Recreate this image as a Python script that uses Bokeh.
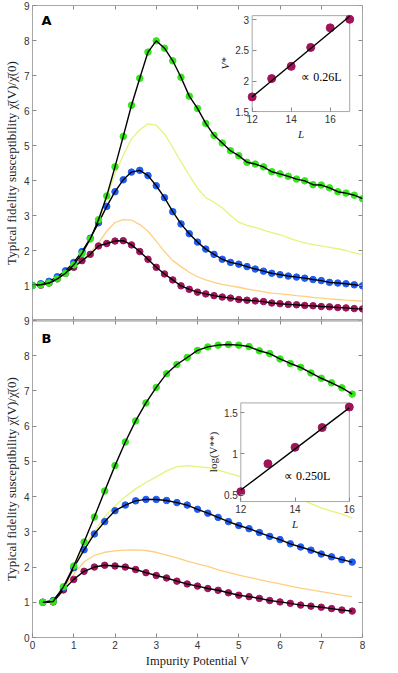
from bokeh.plotting import figure
from bokeh.layouts import column
from bokeh.models import Range1d, LinearAxis, FixedTicker, Label
from bokeh.core.properties import value
from bokeh.embed import file_html
from bokeh.resources import INLINE

# ---------------- data ----------------
V_A = [0.0, 0.2, 0.4, 0.6, 0.8, 1.0, 1.2, 1.4, 1.6, 1.8, 2.0, 2.2, 2.4, 2.6, 2.8, 3.0,
       3.2, 3.4, 3.6, 3.8, 4.0, 4.2, 4.4, 4.6, 4.8, 5.0, 5.2, 5.4, 5.6, 5.8, 6.0, 6.2,
       6.4, 6.6, 6.8, 7.0, 7.2, 7.4, 7.6, 7.8, 8.0]
green_A = [1.00, 1.02, 1.07, 1.19, 1.35, 1.59, 1.91, 2.33, 2.88, 3.56, 4.39, 5.26, 6.15, 6.92,
           7.67, 7.99, 7.78, 7.42, 6.95, 6.41, 6.06, 5.63, 5.29, 5.07, 4.85, 4.71, 4.52, 4.47,
           4.39, 4.25, 4.19, 4.12, 4.04, 3.99, 3.88, 3.87, 3.79, 3.68, 3.64, 3.58, 3.48]
blue_A = [1.00, 1.05, 1.12, 1.25, 1.42, 1.66, 1.97, 2.35, 2.79, 3.26, 3.68, 4.02, 4.24, 4.29,
          4.14, 3.85, 3.51, 3.11, 2.76, 2.48, 2.24, 2.04, 1.89, 1.75, 1.66, 1.61, 1.54, 1.47,
          1.41, 1.35, 1.31, 1.27, 1.24, 1.21, 1.17, 1.14, 1.09, 1.07, 1.05, 1.02, 0.99]
purple_A = [1.00, 1.01, 1.07, 1.19, 1.35, 1.52, 1.71, 1.89, 2.13, 2.20, 2.27, 2.28, 2.16, 1.97,
            1.75, 1.52, 1.33, 1.16, 0.99, 0.89, 0.81, 0.76, 0.71, 0.67, 0.64, 0.60, 0.58, 0.56,
            0.54, 0.50, 0.48, 0.46, 0.45, 0.43, 0.42, 0.40, 0.39, 0.37, 0.36, 0.34, 0.33]
yellow_A = [1.00, 1.03, 1.09, 1.21, 1.38, 1.62, 1.93, 2.33, 2.84, 3.50, 4.20, 4.72, 5.19, 5.45,
            5.62, 5.58, 5.33, 4.95, 4.53, 4.15, 3.78, 3.51, 3.38, 3.22, 3.00, 2.81, 2.72, 2.66,
            2.58, 2.51, 2.45, 2.36, 2.28, 2.22, 2.17, 2.13, 2.09, 2.05, 2.00, 1.93, 1.88]
orange_A = [1.00, 1.02, 1.07, 1.19, 1.35, 1.52, 1.70, 1.94, 2.22, 2.55, 2.80, 2.88, 2.87, 2.74,
            2.55, 2.27, 1.97, 1.71, 1.54, 1.38, 1.25, 1.16, 1.09, 1.03, 0.99, 0.95, 0.90, 0.86,
            0.82, 0.78, 0.76, 0.74, 0.71, 0.69, 0.66, 0.64, 0.62, 0.60, 0.58, 0.565, 0.55]

V_B = [0.25, 0.5, 0.75, 1.0, 1.25, 1.5, 1.75, 2.0, 2.25, 2.5, 2.75, 3.0, 3.25, 3.5, 3.75, 4.0,
       4.25, 4.5, 4.75, 5.0, 5.25, 5.5, 5.75, 6.0, 6.25, 6.5, 6.75, 7.0, 7.25, 7.5, 7.75]
green_B = [1.00, 1.02, 1.44, 2.03, 2.71, 3.42, 4.16, 4.88, 5.55, 6.15, 6.66, 7.10, 7.49, 7.75,
           7.95, 8.15, 8.25, 8.30, 8.32, 8.30, 8.26, 8.14, 8.06, 7.91, 7.78, 7.67, 7.51, 7.36,
           7.23, 7.09, 6.91]
blue_B = [1.00, 1.05, 1.41, 1.98, 2.49, 2.94, 3.29, 3.60, 3.76, 3.88, 3.92, 3.92, 3.89, 3.83,
          3.76, 3.64, 3.53, 3.41, 3.29, 3.18, 3.09, 2.98, 2.87, 2.78, 2.66, 2.57, 2.48, 2.37,
          2.29, 2.21, 2.14]
purple_B = [1.00, 1.01, 1.35, 1.65, 1.88, 2.00, 2.05, 2.03, 2.00, 1.93, 1.84, 1.76, 1.69, 1.60,
            1.52, 1.46, 1.39, 1.34, 1.27, 1.20, 1.16, 1.11, 1.05, 1.01, 0.97, 0.92, 0.89, 0.86,
            0.82, 0.78, 0.75]
yellow_B = [1.00, 1.02, 1.40, 1.97, 2.58, 3.01, 3.43, 3.74, 4.00, 4.22, 4.40, 4.56, 4.73, 4.85,
            4.88, 4.85, 4.82, 4.75, 4.67, 4.58, 4.49, 4.40, 4.30, 4.19, 4.06, 3.92, 3.80, 3.68,
            3.59, 3.50, 3.39]
orange_B = [1.00, 1.02, 1.38, 1.80, 2.15, 2.33, 2.42, 2.46, 2.48, 2.49, 2.47, 2.42, 2.34, 2.26,
            2.17, 2.09, 2.02, 1.92, 1.85, 1.77, 1.71, 1.64, 1.58, 1.52, 1.46, 1.40, 1.35, 1.30,
            1.25, 1.20, 1.16]

# inset A : V* vs L
L_A = [12, 13, 14, 15, 16, 17]
Vstar_A = [1.74, 2.04, 2.24, 2.55, 2.87, 3.01]
fitL_A = [12, 17]
fitV_A = [1.74, 3.06]
# inset B : log(V**) vs L
L_B = [12, 13, 14, 15, 16]
logV_B = [0.54, 0.88, 1.08, 1.32, 1.57]
fitL_B = [12, 16]
fitV_B = [0.56, 1.56]

x_ticks = [0, 1, 2, 3, 4, 5, 6, 7, 8]
y_ticks_A = [1, 2, 3, 4, 5, 6, 7, 8, 9]
y_ticks_B = [0, 1, 2, 3, 4, 5, 6, 7, 8, 9]
insA_yticks = [1.5, 2, 2.5, 3]
insB_yticks = [0.5, 1, 1.5]
ins_xticks = [12, 14, 16]

YLABEL = "Typical fidelity susceptibility \u03c7\u0304(V)/\u03c7\u0304(0)"
XLABEL = "Impurity Potential V"

GREEN = "#35e61c"
BLUE = "#1f5cf0"
PURPLE = "#a0145a"
YELLOW = "#e2f57c"
ORANGE = "#ffcf80"
AXC = "#8a8a8a"
TXT = "#333333"
SANS = "Liberation Sans"
SERIF = "Liberation Serif"


def span(full0, full1, box0, box1, in0, in1):
    k = (in1 - in0) / (box1 - box0)
    return in0 + (full0 - box0) * k, in0 + (full1 - box0) * k


def add_axis(p, side, ticks, labels=True, loc=None, xr="default", yr="default", bounds=None,
             label=None, label_style="normal", label_size="12.5px", line=None, lw=1):
    ax = LinearAxis(ticker=FixedTicker(ticks=ticks), x_range_name=xr, y_range_name=yr)
    if loc is not None:
        ax.fixed_location = loc
    if bounds is not None:
        ax.bounds = bounds
    ax.major_tick_in = 4
    ax.major_tick_out = 0
    ax.minor_tick_in = 0
    ax.minor_tick_out = 0
    ax.axis_line_color = line
    ax.axis_line_width = lw
    ax.major_tick_line_color = AXC
    ax.major_label_text_font = SANS
    ax.major_label_text_font_size = "10px"
    ax.major_label_text_color = TXT
    ax.major_label_standoff = 3
    if not labels:
        ax.major_label_overrides = {t: "" for t in ticks}
    if label:
        ax.axis_label = label
        ax.axis_label_text_font = SERIF
        ax.axis_label_text_font_size = label_size
        ax.axis_label_text_font_style = label_style
        ax.axis_label_text_color = "#222222"
        ax.axis_label_standoff = 2
    p.add_layout(ax, side)
    return ax


def make_panel(frame_h, top_border):
    p = figure(frame_width=330, frame_height=frame_h, x_range=Range1d(0, 8), y_range=Range1d(0, 9),
               x_axis_type=None, y_axis_type=None, toolbar_location=None, output_backend="svg",
               min_border_left=20, min_border_right=8, min_border_top=top_border,
               min_border_bottom=0)
    p.outline_line_color = "#a8a8a8"
    p.outline_line_width = 1
    p.background_fill_color = "white"
    return p


def curves(p, V, yellow, orange, series):
    p.line(V, yellow, line_color=YELLOW, line_width=1.3)
    p.line(V, orange, line_color=ORANGE, line_width=1.3)
    for ys, col in series:
        p.scatter(V, ys, size=6.5, fill_color=col, line_color=col)
        p.line(V, ys, line_color="black", line_width=1.4)


def inset(p, xr, yr, L, vals, fitL, fitV, xlim, ylim, yticks, ylabel, ylabel_style, note, note_xy):
    p.quad(left=[xlim[0]], right=[xlim[1]], bottom=[ylim[0]], top=[ylim[1]],
           x_range_name=xr, y_range_name=yr, fill_color="white", line_color="#a8a8a8",
           line_width=1)
    p.scatter(L, vals, x_range_name=xr, y_range_name=yr, size=8,
              fill_color=PURPLE, line_color=PURPLE)
    p.line(fitL, fitV, x_range_name=xr, y_range_name=yr, line_color="black", line_width=1.4)
    p.text(x=[note_xy[0]], y=[note_xy[1]], text=[note], x_range_name=xr, y_range_name=yr,
           text_font=value(SERIF), text_font_size="12px", text_align="center",
           text_baseline="middle", text_color="black")
    add_axis(p, "left", yticks, loc=xlim[0], xr=xr, yr=yr, bounds=ylim,
             label=ylabel, label_style=ylabel_style, label_size="11px")
    add_axis(p, "below", ins_xticks, loc=ylim[0], xr=xr, yr=yr, bounds=xlim,
             label="L", label_style="italic", label_size="11px")


# ================= panel A =================
pA = make_panel(315, 5)
pA.extra_x_ranges = {"iAx": Range1d(*span(0, 8, 5.325, 7.69, 12, 17))}
pA.extra_y_ranges = {"iAy": Range1d(*span(0, 9, 5.97, 8.71, 1.5, 3.07))}
add_axis(pA, "left", y_ticks_A, label=YLABEL, label_size="13px")
add_axis(pA, "right", y_ticks_B, labels=False, loc=8)
add_axis(pA, "above", x_ticks, labels=False, loc=9)
add_axis(pA, "below", x_ticks, labels=False, loc=0)
curves(pA, V_A, yellow_A, orange_A, ((purple_A, PURPLE), (blue_A, BLUE), (green_A, GREEN)))
pA.add_layout(Label(x=0.34, y=8.57, text="A", text_font="DejaVu Sans", text_font_style="bold",
                    text_font_size="13px", text_align="center", text_baseline="middle",
                    text_color="black"))
inset(pA, "iAx", "iAy", L_A, Vstar_A, fitL_A, fitV_A, (12, 17), (1.5, 3.07), insA_yticks,
      "V*", "italic", "\u221d 0.26L", (15.55, 2.07))

# ================= panel B =================
pB = make_panel(317, 5)
pB.margin = (-5, 0, 0, 0)
pB.border_fill_alpha = 0
pB.extra_x_ranges = {"iBx": Range1d(*span(0, 8, 5.05, 7.68, 12, 16))}
pB.extra_y_ranges = {"iBy": Range1d(*span(0, 9, 3.86, 6.66, 0.42, 1.62))}
add_axis(pB, "below", x_ticks, label=XLABEL)
add_axis(pB, "left", y_ticks_B, label=YLABEL, label_size="13px")
add_axis(pB, "right", y_ticks_B, labels=False, loc=8)
add_axis(pB, "above", x_ticks, labels=False, loc=9, line="#cccccc", lw=3)
curves(pB, V_B, yellow_B, orange_B, ((purple_B, PURPLE), (blue_B, BLUE), (green_B, GREEN)))
pB.add_layout(Label(x=0.34, y=8.48, text="B", text_font="DejaVu Sans", text_font_style="bold",
                    text_font_size="13px", text_align="center", text_baseline="middle",
                    text_color="black"))
inset(pB, "iBx", "iBy", L_B, logV_B, fitL_B, fitV_B, (12, 16), (0.42, 1.62), insB_yticks,
      "log(V**)", "normal", "\u221d 0.250L", (14.45, 0.73))

layout = column(pA, pB, spacing=0)
open("out.html", "w").write(file_html(layout, INLINE))
